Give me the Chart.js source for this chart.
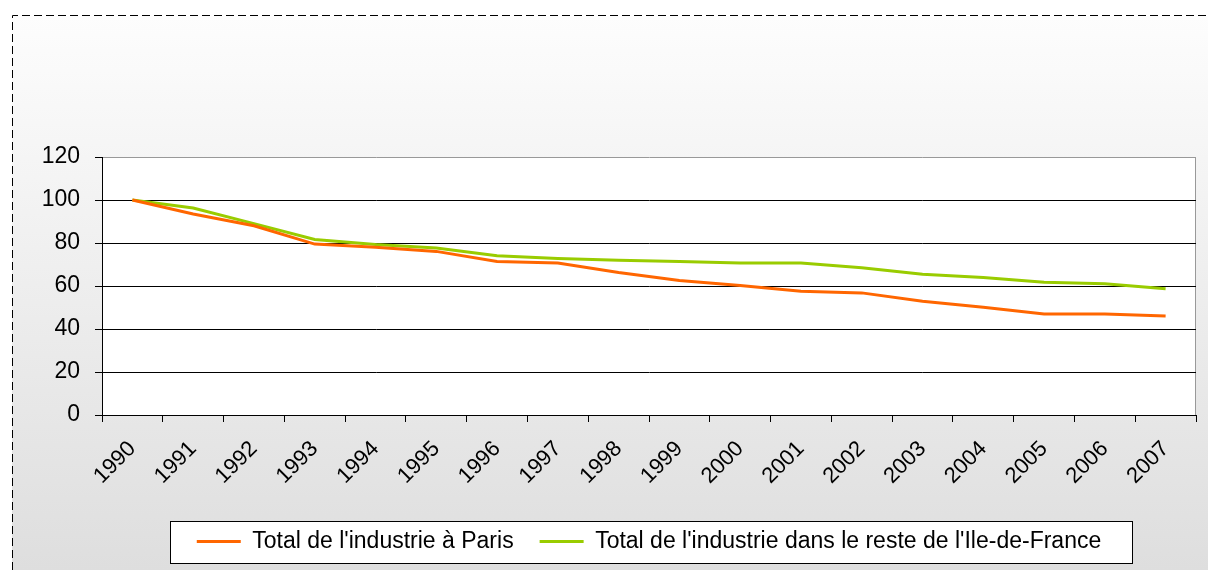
<!DOCTYPE html>
<html>
<head>
<meta charset="utf-8">
<script src="https://cdn.jsdelivr.net/npm/chart.js@4"></script>
<style>
  body { margin: 0; background: #fff; }
  canvas { display: block; }
</style>
</head>
<body>
<canvas id="chart" width="1208" height="570"></canvas>
<script>
const years = ['1990', '1991', '1992', '1993', '1994', '1995', '1996', '1997', '1998',
               '1999', '2000', '2001', '2002', '2003', '2004', '2005', '2006', '2007'];
const paris = [100, 93.5, 88, 79.5, 78, 76.1, 71.4, 70.7, 66.3, 62.6, 60.2, 57.6, 56.8, 52.9, 50.1, 47.0, 47.0, 46.1];
const resteIdf = [100, 96.3, 89.0, 81.6, 79.3, 77.7, 74.1, 72.8, 72.0, 71.4, 70.7, 70.7, 68.5, 65.5, 64.0, 61.8, 61.0, 58.7];
const seriesNames = ["Total de l'industrie à Paris", "Total de l'industrie dans le reste de l'Ile-de-France"];
const yMax = 120;
const yStep = 20;

const font = "'Liberation Sans', Arial, sans-serif";

// background, dashed frame, white plot area and legend box
const frame = {
    id: 'frame',
    beforeDraw(chart) {
        const c = chart.ctx, a = chart.chartArea;
        const W = chart.width, H = chart.height;
        c.save();
        const g = c.createLinearGradient(0, 16, 0, H);
        g.addColorStop(0, '#fdfdfd');
        g.addColorStop(1, '#dedede');
        c.fillStyle = g;
        c.fillRect(12, 16, W - 12, H - 16);

        c.setLineDash([8, 4]);
        c.strokeStyle = '#000';
        c.lineWidth = 1;
        c.beginPath();
        c.moveTo(12.5, H);
        c.lineTo(12.5, 15.5);
        c.lineTo(W, 15.5);
        c.stroke();
        c.setLineDash([]);

        c.fillStyle = '#fff';
        c.fillRect(a.left, a.top, a.right - a.left, a.bottom - a.top);
        c.strokeStyle = '#999';
        c.beginPath();
        c.moveTo(a.right - 0.5, a.top);
        c.lineTo(a.right - 0.5, a.bottom);
        c.stroke();

        const boxes = chart.legend && chart.legend.legendHitBoxes;
        if (boxes && boxes.length) {
            const first = boxes[0], last = boxes[boxes.length - 1];
            const left = Math.round(first.left - 27) + 0.5;
            const right = Math.round(last.left + last.width + 31) + 0.5;
            const cy = first.top + first.height / 2;
            const top = Math.round(cy - 21) + 0.5;
            c.fillStyle = '#fff';
            c.fillRect(left, top, right - left, 42);
            c.strokeStyle = '#000';
            c.strokeRect(left, top, right - left, 42);
        }
        c.restore();
    }
};

new Chart(document.getElementById('chart'), {
    type: 'line',
    data: {
        labels: years,
        datasets: [
            { label: seriesNames[0], data: paris, borderColor: '#ff6600', backgroundColor: '#ff6600' },
            { label: seriesNames[1], data: resteIdf, borderColor: '#99cc00', backgroundColor: '#99cc00' }
        ]
    },
    options: {
        responsive: false,
        animation: false,
        elements: {
            line: { borderWidth: 3, tension: 0, fill: false },
            point: { radius: 0, borderWidth: 3 }
        },
        layout: { padding: { top: 157, left: 0, right: 12, bottom: 7 } },
        plugins: {
            tooltip: { enabled: false },
            legend: {
                position: 'bottom',
                fullSize: false,
                labels: {
                    usePointStyle: true,
                    pointStyle: 'line',
                    pointStyleWidth: 44,
                    padding: 26,
                    color: '#000',
                    font: { size: 23, family: font }
                }
            }
        },
        scales: {
            x: {
                offset: true,
                grid: { offset: true, drawOnChartArea: false, tickLength: 7, color: '#000' },
                border: { color: '#000', width: 1 },
                ticks: {
                    autoSkip: false, minRotation: 45, maxRotation: 45, padding: 14,
                    color: '#000', font: { size: 22, family: font }
                },
                afterFit(s) { s.height = 89; s.paddingLeft = 0; s.paddingRight = 0; }
            },
            y: {
                min: 0,
                max: yMax,
                ticks: { stepSize: yStep, padding: 15, color: '#000', font: { size: 23, family: font } },
                grid: {
                    color: ctx => ctx.tick && ctx.tick.value === yMax ? '#999' : '#000',
                    tickColor: '#000',
                    tickLength: 7
                },
                border: { color: '#000', width: 1 },
                afterFit(s) { s.width = 102; s.paddingTop = 0; s.paddingBottom = 0; }
            }
        }
    },
    plugins: [frame]
});
</script>
</body>
</html>
